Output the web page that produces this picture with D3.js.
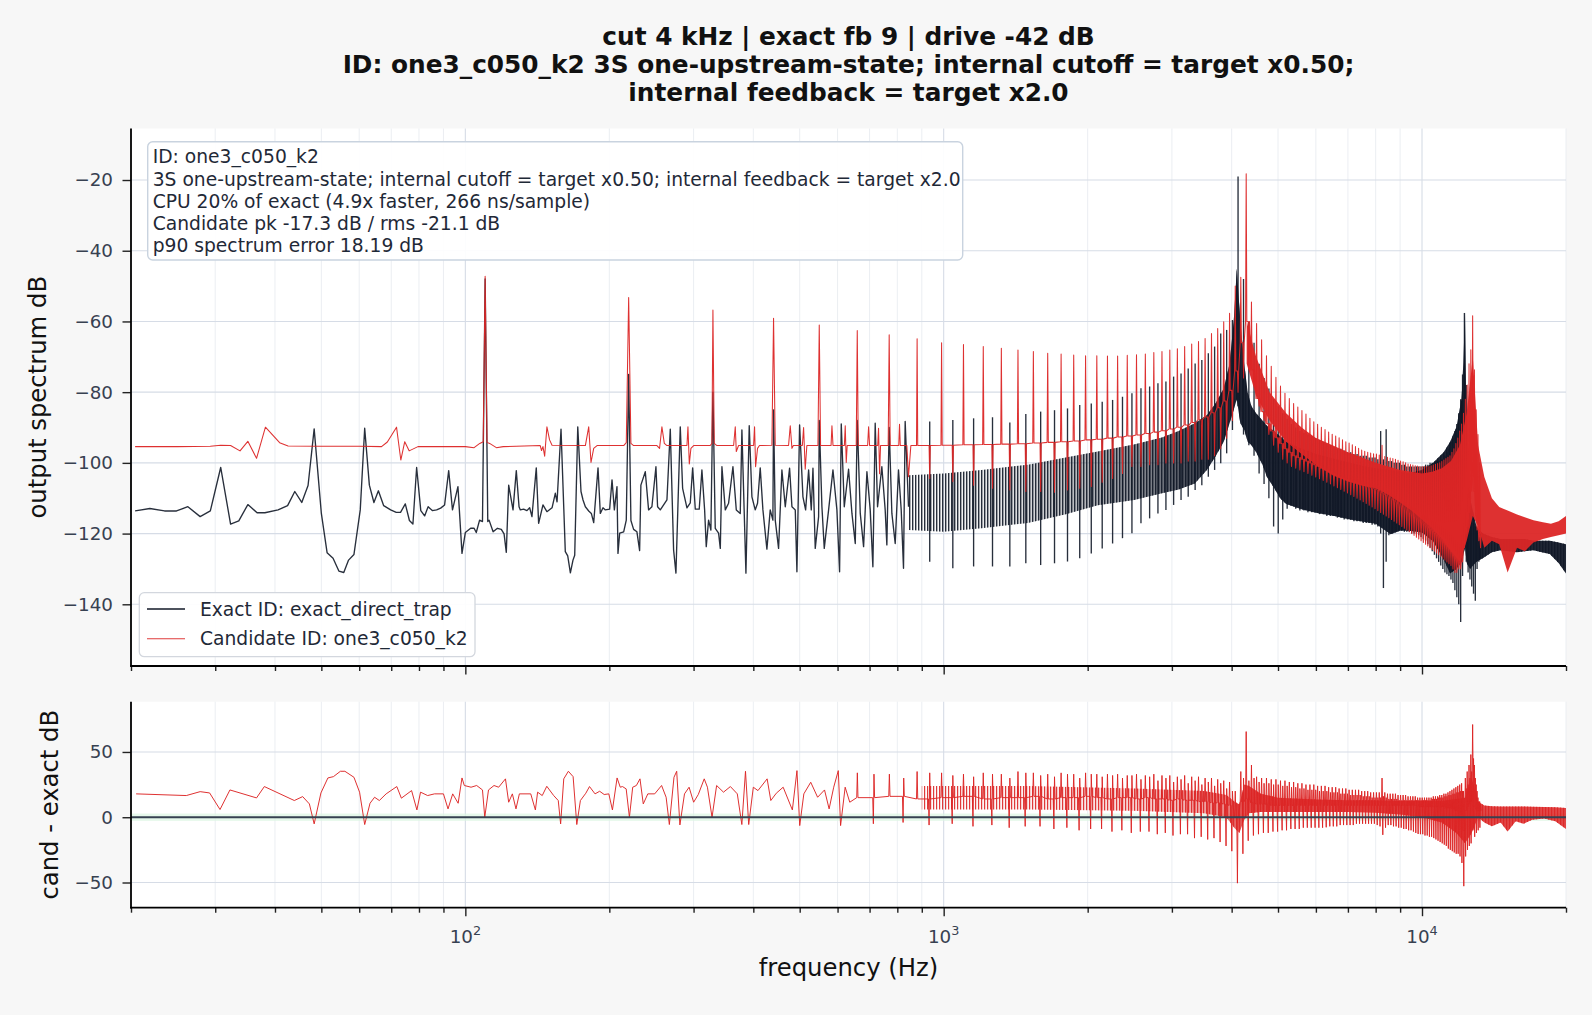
<!DOCTYPE html>
<html><head><meta charset="utf-8">
<script src="https://cdn.jsdelivr.net/npm/d3@7"></script>
<style>
html,body{margin:0;padding:0;background:#f7f7f7;}
svg{display:block;font-family:"DejaVu Sans",sans-serif;}
</style></head><body>
<svg id="chart" width="1592" height="1015"></svg>
<script>
// ---------------- DATA ----------------
const titleLines = ["cut 4 kHz | exact fb 9 | drive -42 dB",
  "ID: one3_c050_k2 3S one-upstream-state; internal cutoff = target x0.50;",
  "internal feedback = target x2.0"];
const infoLines = ["ID: one3_c050_k2",
  "3S one-upstream-state; internal cutoff = target x0.50; internal feedback = target x2.0",
  "CPU 20% of exact (4.9x faster, 266 ns/sample)",
  "Candidate pk -17.3 dB / rms -21.1 dB",
  "p90 spectrum error 18.19 dB"];
const seriesNames = ["Exact ID: exact_direct_trap", "Candidate ID: one3_c050_k2"];
const freqDomain = [20, 20000];
const specDomain = [-157.45, -5.43];
const diffDomain = [-69.3, 88.5];
const specTicks = [-140, -120, -100, -80, -60, -40, -20];
const diffTicks = [-50, 0, 50];
const okBand = [-2.8, 2.8];

const F0 = 110;            // fundamental of the harmonic comb (Hz)
const HARM_START = 8;      // first harmonic in the spectrum tables (880 Hz)
const DIFF_HARM_START = 6; // first harmonic in the difference tables (660 Hz)

// exact spectrum, low-frequency points [Hz, dB]
const exactLow = [[20.4,-113.6],[21.9,-112.9],[23.5,-113.6],[24.9,-113.6],[26.3,-112.4],[27.9,-115.2],[29.3,-113.6],[30.8,-101.3],[32.3,-117.3],[33.6,-116.4],[35.1,-111.8],[36.7,-114.1],[38.1,-114.1],[40.6,-113.3],[42.5,-112.1],[44,-108.1],[45.5,-111.2],[46.9,-106.4],[48.3,-90.4],[50,-114.3],[51.4,-125.4],[52.9,-127],[54.4,-130.6],[55.7,-131],[57,-127.5],[58.5,-125.9],[60.3,-113.3],[61.6,-90.2],[63,-106.3],[64.4,-111.2],[65.8,-107.9],[67.5,-112.1],[69.8,-113.3],[71.7,-114],[73.2,-114],[74.9,-111.6],[76.4,-116.3],[77.7,-117.3],[79.1,-101.3],[80.7,-113.5],[82.2,-115],[83.6,-112.4],[85.3,-113.5],[87.1,-113.3],[88.8,-112.8],[90.5,-111.9],[92.3,-102.2],[94,-113.3],[96.5,-106.7],[98.4,-125.6],[100,-119.7],[102.6,-118.5],[104.3,-118.5],[105.4,-119.7],[107.1,-116.2],[108.6,-116.6],[110,-48],[111.4,-116.6],[112.1,-116.2],[114.3,-119.5],[116.7,-118.5],[118.9,-118.8],[120.5,-120.1],[121.8,-125.3],[123.2,-106.3],[125.8,-113.3],[127.8,-102.2],[129.5,-112.4],[130.3,-113.3],[132.4,-113.1],[134.5,-113.5],[136.3,-112.7],[137.8,-115.2],[140.7,-101.4],[142.3,-117.1],[145.3,-111.9],[148.1,-113.8],[151.8,-112.7],[154.2,-108.6],[155.5,-111],[158.5,-90.5],[161.8,-125.1],[163.7,-126.3],[165.8,-131.1],[167.9,-127.5],[169.3,-126.1],[171.8,-89.8],[174.5,-108.1],[176.2,-110.5],[178.2,-112.4],[181.1,-113.6],[183.4,-114.3],[185.5,-116.9],[189.4,-101.4],[191.5,-114.3],[194,-112.7],[196.2,-113.3],[200.3,-113.1],[202.6,-104.8],[204.9,-113.3],[207.5,-106.7],[208.5,-125.6],[210.2,-119.9],[214.3,-119.5],[217,-116.2],[219.5,-75],[221.9,-116.3],[224.8,-118.8],[228.4,-119.5],[231.4,-124.8],[232.8,-106.3],[237.8,-102.5],[241.6,-113.3],[245.5,-112.4],[250.3,-101.1],[252.3,-112.4],[255.6,-113.3],[263.9,-110.5],[268.2,-90.5],[272.5,-124.6],[275.6,-131.2],[281.4,-89.8],[284.6,-107.2],[290.6,-112.7],[295.3,-111.3],[298.7,-101.4],[302.5,-113.1],[308.3,-113.1],[312.3,-102],[316.4,-113.3],[318.9,-123.7],[322.5,-116.2],[326.1,-119],[329.3,-80],[333,-118.5],[338.4,-119.9],[341.2,-124.2],[343.9,-101.1],[349.5,-113.3],[355.1,-111.4],[362.6,-101.1],[368.5,-113.3],[375.6,-114.3],[378.6,-90.7],[386,-131.2],[392.2,-89.5],[397.3,-109.6],[403.7,-113.3],[408.2,-111.4],[413.5,-101.4],[418.9,-113.3],[427,-124.4],[433.9,-113.3],[439.5,-116.2],[440.9,-85],[444.5,-116.2],[451.7,-124.2],[459,-102],[466.5,-112.4],[476.3,-101.5],[481.7,-112.4],[489.5,-113.3],[493.4,-130.8],[499.8,-89.3],[507.9,-109.6],[514.5,-113.3],[522,-102],[528.7,-113.3],[533,-101.5],[538.9,-124.2],[547.7,-115.2],[549.4,-88],[556.5,-112.4],[562.8,-124.2],[574.7,-113.3],[586.9,-102],[598.1,-113.3],[605.9,-130.8],[610.8,-89],[619.7,-112.4],[632.7,-101.8],[643,-114.3],[653.4,-122.8],[659.7,-88],[669.3,-114.3],[680.1,-123.7],[691.1,-102.5],[702.2,-113.3],[711.2,-129.4],[719.2,-88.8],[727.4,-112.4],[742.6,-101.1],[754.6,-113.3],[760.7,-123.2],[769.3,-90],[779.3,-114.3],[791.9,-122.8],[804.6,-102],[815.1,-113.3],[824.2,-129.8],[830.8,-88.3],[844.3,-112.4]];

// exact spectrum, spikes at half-harmonics (n+0.5)*F0, n = 8..120
const exactHi = [-88.3,-87.9,-87.4,-87.1,-88.6,-86.2,-85.5,-85.1,-84.6,-83.6,-83.2,-82.7,-82.2,-81.3,-80.3,-78.9,-78.4,-77.5,-77.0,-75.6,-74.7,-73.3,-71.9,-70.9,-69.0,-67.1,-63.4,-62.4,-59.6,
  -19.0,
  -48,-60,-66,-72,-76,-79,-82,-84,-86,-87.5,-89,-90,-91,
  -91.5,-92,-92.5,-93,-93.5,-94,-94.5,-95,-95.5,-96,-96,-96.5,-97,-97,-97.5,-97.5,-98,-98,-98,-98.5,-98.5,-98.5,-99,-91,
  -99,-90.5,
  -99.5,-99.5,-100,-100,-100,-100.5,-100.5,-101,-101,-101,-101,-101,-101,-101,-101,-100.5,-100.5,-100,-100,-100,-99.5,-99.5,-99,
  -99,-98,-97,-96,-94,-93,-91,-89,-86,-82,-75,-57.6,-78,-96,-108,-114,-117,-118,-119,-119,-120];
const exactLo = [-128,-129.8,-129.3,-129.3,-129.3,-128.4,-128.9,-128.4,-127.9,-127.0,-125.6,-124.2,-122.8,-121.3,-119.9,-117.1,-115.7,-114.3,-113.3,-111.9,-110.5,-109.6,-107.7,-106.3,-103.9,-102.0,-100.1,-97.3,-90.7,
  -84,
  -92,-95,-98,-103,-106,-110,-118,-120,-116,-113,-112,-113,-113.5,
  -113.5,-114,-114,-114,-114.5,-114.5,-115,-115,-115,-115.5,-115.5,-116,-116,-116,-116.5,-116.5,-116.5,-117,-117,-117,-117.5,-117.5,-118,-120,
  -135.4,-128,
  -120.5,-120,-119.5,-119.5,-119,-119,-119.5,-119.5,-119.5,-120,-120,-120,-120.5,-121,-121.5,-122,-123,-124,-125,-126,-127,-128,-129,
  -130,-131,-131.5,-132,-133,-134,-136,-138,-140,-145,-132,-122,-128,-131,-133,-135,-137,-139,-130,-128,-127];
// exact spectrum dense band (Hz, upper dB, lower dB)
const exactBandF = [845,1000,1200,1500,1800,2100,2500,2860,3100,3350,3550,3700,3850,3960,4040,4100,4170,4250,4320,4400,4500,4640,4740,4900,5050,5200,5600,6000,6600,7070,7600,8000,8600,9000,9400,10000,10550,11100,11450,11800,12100,12200,12300,12400,12600,13000,13400,14000,14600,15200,15800,16400,17100,17800,18500,19300,20000];
const exactBandTop = [-103.5,-103,-102,-100.5,-98.5,-96.8,-94.8,-92.8,-91,-88.8,-86.5,-83.2,-79,-72,-60,-45,-60,-72,-80,-84,-86,-88,-89.5,-91,-92.5,-94,-96,-97.5,-99,-100,-101,-101.5,-102,-102.5,-103,-102,-100,-97,-94,-89.9,-81.8,-71.7,-57.6,-92,-110,-118,-120,-121,-121.5,-121.5,-121.5,-121.5,-122,-122,-122,-122.5,-123];
const exactBandBot = [-119,-119.5,-118.5,-117,-114.5,-112,-110.5,-108.6,-107.5,-105.8,-102,-98.2,-94,-88.8,-85,-82,-88.8,-90.7,-94,-95,-97,-100.5,-104,-107,-110,-111.6,-113.1,-114.1,-115.1,-116,-116.7,-117.2,-120.2,-119.2,-119.2,-119.7,-122.2,-127.3,-131.3,-130,-128,-126,-124,-128.3,-130,-128,-127,-125.3,-124.7,-125,-125.3,-125,-124.7,-125.3,-125.8,-128.3,-131.3];
// how solid the exact band looks on top of its hatching (Hz, fill opacity)
const exactDensityF = [845, 1300, 2000, 2800, 3500, 3900];
const exactDensity = [0.0, 0.1, 0.32, 0.58, 0.84, 0.94];

// candidate spectrum, low-frequency points [Hz, dB]
const candLow = [[20.4,-95.4],[25,-95.4],[29.3,-95.3],[30.8,-95.0],[32.3,-95.1],[33.8,-96.6],[35.1,-93.9],[36.6,-98.7],[38.2,-89.9],[40.9,-94.3],[42.6,-95.2],[50,-95.3],[60,-95.3],[66.8,-95.4],[68.7,-94.1],[71.8,-89.9],[73.3,-99.2],[74.7,-94.0],[76.3,-96.6],[79.6,-95.4],[100,-95.4],[104.3,-95.7],[107.2,-94.5],[109,-94],[110,-47.2],[111,-94.2],[112.4,-94.5],[116.1,-95.7],[120,-95.4],[143.4,-95.1],[144.3,-96.5],[145.3,-95.4],[146.5,-98.1],[148.1,-89.8],[150,-93.5],[151.8,-95.0],[178.2,-95.1],[181.1,-89.8],[183.1,-99.9],[185.5,-95.9],[188.5,-95.1],[214.3,-95.1],[217,-94.3],[219.5,-53.2],[221.9,-94.5],[224.8,-95.1],[251.5,-95.1],[254.7,-95.9],[257.6,-89.8],[260.6,-94.5],[263.9,-95.1],[290.6,-95.1],[292,-89.8],[293.9,-100.3],[296.2,-95.9],[300.1,-95.1],[325.1,-95.1],[327.7,-94.5],[329.3,-56.8],[331.4,-94.5],[335.7,-95.1],[363.8,-95.1],[366.7,-89.8],[368.5,-96.8],[372.6,-95.1],[400.5,-95.1],[402.4,-89.8],[404.4,-101.1],[408.2,-95.9],[412,-95.1],[437.4,-95],[440.9,-59.1],[444.5,-95],[473.9,-95.1],[477.8,-89.5],[481.7,-95.9],[485,-95.1],[506.5,-95.1],[509.5,-90],[513.5,-101.8],[517.6,-95.1],[545.9,-95.1],[549.4,-61],[552.9,-95.1],[581.5,-95.1],[584,-89.5],[587,-95.1],[620,-95.1],[622.6,-89.5],[625.6,-99.9],[628.5,-95.1],[656.4,-95.1],[659.7,-62.6],[662.8,-95.1],[693.5,-95.1],[696.7,-89.8],[700,-95.1],[728,-95.1],[730.9,-90.2],[734.5,-103.1],[738,-95.1],[765.6,-95.1],[769.3,-63.8],[773,-95.1],[805.5,-95.1],[808.5,-89.1],[811.5,-95.1],[837.5,-95.1],[844.3,-103.9],[853.9,-95.1]];

// candidate spectrum per harmonic n = 8..120: peak at n*F0, floor, dip at (n+0.5)*F0
const candPeak = [-64.9,-66.0,-66.5,-67.1,-67.6,-68.1,-68.5,-69.0,-69.2,-69.5,-69.7,-69.7,-69.8,-69.8,-69.6,-69.4,-69.2,-68.8,-68.5,-68.1,-67.7,-67.1,-66.4,-65.7,-64.8,-63.4,-62.0,-60.1,-57.7,
  -50,-47.5,-18.2,
  -54.5,-60.6,-65.2,-69.7,-72.7,-75.8,-78.3,-80.3,-81.8,-83.2,-84.2,
  -85.2,-86.2,-87.4,-88.4,-89.1,-89.9,-90.6,-91.3,-91.9,-92.4,-92.9,-93.5,-94.0,-94.4,-94.9,-95.4,-95.9,-96.4,-96.7,-97.0,-97.2,-97.4,-97.5,-97.8,
  -95,-98.2,
  -98.4,-98.6,-98.8,-99.0,-99.3,-99.5,-99.7,-100,-100.3,-100.5,-100.6,-100.8,-100.9,-101,-101,-101,-101,-101,-100.8,-100.6,-100.4,-100.2,-100,
  -99.6,-99.2,-98.8,-98.4,-98,-97,-96,-94.5,-93,-91,-89,-86,-82,-78,-72,-68,-58.4,-73.7,-85,-92,-100];
const candFloor = [-95.1,-95.0,-94.9,-94.8,-94.7,-94.6,-94.4,-94.2,-94.0,-93.8,-93.5,-93.3,-93.0,-92.7,-92.4,-92.1,-91.7,-91.3,-90.9,-90.4,-89.9,-89.3,-88.6,-87.8,-87.0,-85.8,-84.4,-82.5,-79.5,
  -74,-66,-60,
  -73.7,-81.8,-85.5,-88.9,-91,-92.9,-94.5,-96,-97,-98,-98.5,
  -99,-99.5,-100,-100.5,-101,-101.5,-102,-102.5,-103,-103.5,-104,-104.3,-104.6,-105,-105.3,-105.6,-105.9,-106.2,-106.5,-106.8,-107,-107.3,-107.6,-108,
  -108.5,-109,
  -109.5,-110,-110.5,-111,-111.6,-112,-112.5,-113,-113.5,-114,-114.5,-115,-115.5,-116,-116.5,-117,-117.5,-118,-118.5,-119,-119.5,-120,-120.5,
  -121,-121.5,-122,-122.5,-123,-124,-125,-126,-127,-128,-126,-122,-118,-114,-110,-105,-100,-108,-115,-118,-120];
const candDip = [-104.4,-105.3,-106.3,-107.2,-107.7,-108.1,-108.1,-108.3,-107.7,-107.2,-106.7,-105.5,-104.4,-103.0,
  -101,-101,-100.5,-100.5,-100,-100,-100,-99.5,-99.5,-99,-99,-98,-96,-93,-88,
  -80,-76,-70,
  -78,-84,-88,-92,-95,-97,-99,-100,-101,-101.5,-102,
  -102.5,-103,-103.5,-104,-104.5,-105,-105.5,-106,-106.5,-107,-107.5,-108,-108.5,-109,-109.5,-110,-110.5,-111,-111.5,-112,-112.5,-113,-113.5,-114,
  -114.5,-115,
  -115.5,-116,-116.5,-117,-117.5,-118,-118.5,-119,-119.5,-120,-120.5,-121,-121.5,-122,-122.5,-123,-123.5,-124,-124.5,-125,-125.5,-126,-126.5,
  -127,-127.5,-128,-128.5,-129,-130,-131,-131,-130,-130,-128,-124,-120,-118,-114,-108,-104,-112,-119,-122,-124];
// candidate dense band (Hz, upper dB, lower dB)
const candBandF = [4300,4500,4800,5200,5600,6000,6500,7000,7500,8000,8500,9000,9500,10000,10500,11000,11500,12000,12400,12770,13100,13500,14000,14500,15100,15800,16400,17100,17900,18600,19300,20000];
const candBandTop = [-60,-70,-80,-86,-90,-93,-95,-97,-98.5,-100,-101,-102,-102.5,-103,-102.5,-101.5,-99.5,-95,-86,-70,-95,-104,-110,-112.5,-113.5,-114.6,-115.4,-116.2,-116.8,-117.2,-116.5,-115];
const candBandBot = [-72,-81,-88,-94,-97.5,-100.5,-103.5,-105.3,-106.5,-107.2,-109,-111.2,-113.5,-116,-118.5,-121.5,-125,-128,-122,-115,-118,-124,-122,-123,-131,-124,-125,-122.5,-121.5,-121,-120.5,-120];

// difference (cand - exact), low-frequency points [Hz, dB]
const diffLow = [[20.5,17.9],[26.1,16.6],[27.9,19.6],[29.2,18.6],[30.7,5.9],[32.2,20.9],[36.6,14.8],[38,23.5],[43.9,12.8],[45.7,15.8],[47.2,10.2],[48.3,-5.1],[49.9,18.6],[51.6,30.1],[53,31.1],[54.8,35.2],[56,35.2],[58.5,30.6],[60.1,19.2],[61.6,-5.6],[63.2,10.7],[64.6,15.3],[66.1,12.8],[68.3,17.9],[71.9,23.5],[73.5,14.6],[77.2,20.4],[79.2,5.6],[80.6,19.2],[83.4,16.6],[86.2,17.9],[90,17.9],[92,6.4],[94.1,17.9],[96.6,10.7],[98.4,30.1],[99.5,24.3],[102.8,23],[105.6,24.3],[108.6,20.9],[109.8,0],[111.8,20.9],[114.8,24.3],[117.4,23],[121.3,29.4],[123.2,11.5],[125.4,17.9],[127.6,6.4],[129.7,17.9],[137,17.9],[140.1,5.6],[141.6,19.2],[144.8,16.6],[148,23.7],[153,16.6],[156.4,12.8],[158.2,-5.1],[160.6,29.4],[164.2,35.2],[168,31.1],[171,-5.6],[174,12.8],[178.6,18.4],[181.8,23.5],[186.7,17.9],[190.9,19.9],[195.1,17.4],[199.5,17.9],[203,5.6],[207.6,30.1],[210.8,23],[213.1,23.5],[216.9,21.7],[220.3,0],[223.8,23],[227.8,24.3],[231.8,29.4],[235.5,10.2],[240.7,17.9],[248.8,17.9],[257.2,24.3],[262.9,15.3],[267,-5.6],[273,30.6],[276.6,35.2],[280.9,-5.9],[287.2,17.9],[293.6,23],[300.1,11.5],[306.9,17.4],[315.8,29.4],[320.7,23],[327.9,0],[335.2,24.3],[346.5,19.2],[358.2,23.5],[370.3,17.9],[378.5,-5.6],[385.2,35.2],[391.2,-5.6],[400,23],[409,20.4],[427.5,29.4],[435.1,12.8],[446.8,18.4],[461.8,23],[482.7,5.6],[493.5,35.7],[500.1,-6.4],[510.1,17.9],[527.3,26.8],[545.1,15.3],[563.5,20.9],[576.1,6.4],[589,23],[602.1,35.7],[608.8,-6.4],[622.4,23],[636.3,11.5]];
// difference per harmonic n = 6..120
const diffBase = [15,16,14,15,16,14,15,15,16,14,15,15,16,15,14,15,15,14,15,14,14,13,14,13,13,12,12,11,11,10,9,
  0,12,14,
  11,10,10,10,9,9,9,9,9,9, 9,9,9,9,9,9,9,9,9,9, 9,9,9,9,9,9,9,9,9,9, 9,9,9,9,9,9,9,9,9,9, 9,9,9,9,9,9,9,9,9,9, 8,8,8,8,8,8,8,8,8,8, 8,8,7,7,7,6,
  6,5,5,4,2,-10,5,8,10,12,20,8,6,5,5];
const diffHarm = [34,33,35,34,33,34,33,35,34,33,34,33,34,33,33,
  33,32,33,32,33,32,32,31,32,31,
  31,30,30,29,28,27,
  20,35,65.6,40,
  31,30,30,29,29,28,28,27,27,26,
  26,25,25,25,24,24,24,23,23,23,
  22,22,22,21,21,21,21,20,20,20,
  19,19,19,19,30,19,18,18,18,18,
  17,17,17,17,16,16,16,16,15,15,
  15,15,15,15,15,16,16,16,17,17,
  18,18,19,20,21,22,23,24,25,26,
  20,30,35,40,48,71,40,25,15,12];
const diffHalfLo = [-5,-4,-6,-5,-7,-6,-8,-7,-7,-9,-8,-10,-9,-9,-11,
  -10,-12,-11,-11,-13,-12,-14,-13,-13,-16,
  -15,-17,-16,-19,-22,-26,
  -50.5,-28,-18,-14,
  -13,-12,-12,-11,-11,-10,-10,-9,-9,-9,
  -8,-8,-8,-8,-8,-8,-7.7,-7,-7,-7,
  -6,-6,-6,-6,-6,-5,-5,-5,-5,-5,
  -5,-5,-6,-7,-13.5,-8,-6,-6,-7,-7,
  -8,-8,-9,-9,-10,-10,-11,-12,-12.8,-13,
  -13,-14,-14,-15,-15,-16,-17,-18,-19,-20,
  -21,-22,-24,-25,-26,-27,-28,-28,-30,-35,
  -52.8,-30,-25,-22,-20,-10,-15,-12,-10,-8];
const diffHalfHi = [33,30,34,32,31,33,30,34,32,31,33,30,33,31,32,
  30,32,29,31,28,30,27,29,26,28,
  25,27,24,26,22,20,
  10,30,28,30,
  27,26,26,25,25,24,24,23,23,22,
  22,21,21,21,20,20,20,19,19,19,
  18,18,18,17,17,17,17,16,16,16,
  15,15,15,15,16,15,14,14,14,14,
  13,13,13,13,13,13,13,13,13,13,
  13,13,13,13,14,14,14,15,15,15,
  16,16,17,17,18,18,19,19,20,20,
  10,22,25,30,35,45,30,20,12,10];
const diffBandF = [900,1500,2500,3500,3900,4050,4150,4250,4350,4600,5000,6000,7000,8000,9000,10000,11000,11800,12300,12700,13100,13500,14000,14600,15100,15700,16300,17000,18000,19000,20000];
const diffBandTop = [24,24,22,20,17,12,10,25,24,18,15,13.5,13,13,12.5,12.5,12.5,14,15,30,12,9,8.5,8.2,8.2,8.2,8.2,8,7.8,7.6,7];
const diffBandBot = [6,6,5,3,0,-8,-12,-2,3,4,4,4,4,3.5,2,0,-4,-12,-20,-12,0,-4,-7,-4,-11,-3,-5,-2,-1,-3,-9];
// how solid the difference band looks on top of its hatching (Hz, fill opacity)
const diffDensityF = [900, 2000, 3000, 3800, 4300];
const diffDensity = [0.0, 0.12, 0.3, 0.5, 0.85];

// ---------------- LAYOUT / STYLE ----------------
const W = 1592, H = 1015;
const X0 = 131, X1 = 1566;
const TOP = {y0: 128.5, y1: 666};
const BOT = {y0: 701.7, y1: 907.7};
const C_EXACT = "#111827", C_CAND = "#dc2626";
const C_GRID = "#d6dce6", C_GRID_MINOR = "#e9ecf1", C_TICKTXT = "#374151";
const FS_TICK = 18.3, FS_TEXT = 18.7, FS_LABEL = 24.3, FS_TITLE = 24.8;

const svg = d3.select("#chart");
svg.append("rect").attr("width", W).attr("height", H).attr("fill", "#f7f7f7");

const x = d3.scaleLog().domain(freqDomain).range([X0, X1]);
const yT = d3.scaleLinear().domain(specDomain).range([TOP.y1, TOP.y0]);
const yB = d3.scaleLinear().domain(diffDomain).range([BOT.y1, BOT.y0]);

const defs = svg.append("defs");
[["clipTop", TOP], ["clipBot", BOT]].forEach(([id, p]) => {
  defs.append("clipPath").attr("id", id).append("rect")
    .attr("x", X0).attr("y", p.y0).attr("width", X1 - X0).attr("height", p.y1 - p.y0);
});
function densityGradient(id, color, fs, ops) {
  const g = defs.append("linearGradient").attr("id", id).attr("gradientUnits", "userSpaceOnUse")
    .attr("x1", X0).attr("x2", X1).attr("y1", 0).attr("y2", 0);
  fs.forEach((f, i) => g.append("stop").attr("offset", (x(f) - X0) / (X1 - X0))
    .attr("stop-color", color).attr("stop-opacity", ops[i]));
}
densityGradient("gradExact", C_EXACT, exactDensityF, exactDensity);
densityGradient("gradDiff", C_CAND, diffDensityF, diffDensity);
function hatch(id, color, period, lw, op) {
  const p = defs.append("pattern").attr("id", id).attr("patternUnits", "userSpaceOnUse")
    .attr("width", period).attr("height", 8);
  p.append("rect").attr("x", 0).attr("y", 0).attr("width", lw).attr("height", 8)
    .attr("fill", color).attr("fill-opacity", op);
}
hatch("hatchExact", C_EXACT, 3, 1.4, 0.9);
hatch("hatchDiff", C_CAND, 3, 1.2, 0.9);

const allXTicks = x.ticks();
const isMajor = f => Math.abs(Math.log10(f) - Math.round(Math.log10(f))) < 1e-9;
const majorX = allXTicks.filter(isMajor);
const minorX = allXTicks.filter(f => !isMajor(f));

function panel(p, yScale, yTicks) {
  const g = svg.append("g");
  g.append("rect").attr("x", X0).attr("y", p.y0).attr("width", X1 - X0).attr("height", p.y1 - p.y0).attr("fill", "#ffffff");
  minorX.forEach(f => g.append("line").attr("x1", x(f)).attr("x2", x(f)).attr("y1", p.y0).attr("y2", p.y1)
    .attr("stroke", C_GRID_MINOR).attr("stroke-width", 0.9));
  majorX.forEach(f => g.append("line").attr("x1", x(f)).attr("x2", x(f)).attr("y1", p.y0).attr("y2", p.y1)
    .attr("stroke", C_GRID).attr("stroke-width", 1.1));
  yTicks.forEach(v => g.append("line").attr("x1", X0).attr("x2", X1).attr("y1", yScale(v)).attr("y2", yScale(v))
    .attr("stroke", C_GRID).attr("stroke-width", 1.1));
  return g;
}
panel(TOP, yT, specTicks);
panel(BOT, yB, diffTicks);

// ---------- top panel data ----------
const gT = svg.append("g").attr("clip-path", "url(#clipTop)");
const lineT = d3.line().x(d => x(d[0])).y(d => yT(d[1]));
const areaT = d3.area().x(d => x(d[0])).y0(d => yT(d[2])).y1(d => yT(d[1]));
const DL = 0.003;

// exact
const exactBand = exactBandF.map((f, i) => [f, exactBandTop[i], exactBandBot[i]]);
gT.append("path").datum(exactBand).attr("d", areaT).attr("fill", "url(#hatchExact)");
gT.append("path").datum(exactBand).attr("d", areaT).attr("fill", "url(#gradExact)");
gT.append("path").datum(exactLow).attr("d", lineT).attr("fill", "none")
  .attr("stroke", C_EXACT).attr("stroke-opacity", 0.9).attr("stroke-width", 1.35).attr("stroke-linejoin", "round");
const exactSpikes = exactHi.map((hi, i) => [(i + HARM_START + 0.5) * F0, hi, exactLo[i]]);
gT.selectAll("line.exs").data(exactSpikes).join("line").attr("class", "exs")
  .attr("x1", d => x(d[0])).attr("x2", d => x(d[0])).attr("y1", d => yT(d[1])).attr("y2", d => yT(d[2]))
  .attr("stroke", C_EXACT).attr("stroke-opacity", 0.9).attr("stroke-width", 1.35);

// candidate
const candBand = candBandF.map((f, i) => [f, candBandTop[i], candBandBot[i]]);
gT.append("path").datum(candBand).attr("d", areaT).attr("fill", C_CAND).attr("fill-opacity", 0.95);
const candPts = candLow.slice();
candPeak.forEach((pk, i) => {
  const n = i + HARM_START, f = n * F0, fh = (n + 0.5) * F0, fl = candFloor[i];
  candPts.push([f * (1 - DL), fl], [f, pk], [f * (1 + DL), fl], [fh * (1 - DL), fl], [fh, candDip[i]], [fh * (1 + DL), fl]);
});
gT.append("path").datum(candPts).attr("d", lineT).attr("fill", "none")
  .attr("stroke", C_CAND).attr("stroke-opacity", 0.95).attr("stroke-width", 1.05).attr("stroke-linejoin", "round");

// ---------- bottom panel ----------
const gB = svg.append("g").attr("clip-path", "url(#clipBot)");
gB.append("rect").attr("x", X0).attr("width", X1 - X0).attr("y", yB(okBand[1])).attr("height", yB(okBand[0]) - yB(okBand[1]))
  .attr("fill", "#dcf5e3").attr("fill-opacity", 0.7);
const lineB = d3.line().x(d => x(d[0])).y(d => yB(d[1]));
const areaB = d3.area().x(d => x(d[0])).y0(d => yB(d[2])).y1(d => yB(d[1]));
const diffBand = diffBandF.map((f, i) => [f, diffBandTop[i], diffBandBot[i]]);
gB.append("path").datum(diffBand).attr("d", areaB).attr("fill", "url(#hatchDiff)");
gB.append("path").datum(diffBand).attr("d", areaB).attr("fill", "url(#gradDiff)");
const diffPts = diffLow.slice();
diffHarm.forEach((h, i) => {
  const n = i + DIFF_HARM_START, f = n * F0, fh = (n + 0.5) * F0, b = diffBase[i];
  diffPts.push([f * (1 - DL), b], [f, h], [f * (1 + DL), b], [fh * (1 - 2 * DL), b], [fh * (1 - DL), diffHalfLo[i]], [fh, diffHalfHi[i]], [fh * (1 + DL), b]);
});
gB.append("path").datum(diffPts).attr("d", lineB).attr("fill", "none")
  .attr("stroke", C_CAND).attr("stroke-opacity", 0.95).attr("stroke-width", 1.0).attr("stroke-linejoin", "round");
gB.append("line").attr("x1", X0).attr("x2", X1).attr("y1", yB(0)).attr("y2", yB(0))
  .attr("stroke", "#374151").attr("stroke-width", 2.2);

// ---------- axes ----------
function styleAxis(g) {
  g.select(".domain").remove();
  g.selectAll(".tick line").attr("stroke", "#222").attr("stroke-width", 1.4);
  g.selectAll(".tick text").attr("fill", C_TICKTXT).attr("font-size", FS_TICK).attr("font-family", "DejaVu Sans");
}
svg.append("g").attr("transform", `translate(${X0},0)`)
  .call(d3.axisLeft(yT).tickValues(specTicks).tickSize(8.5).tickPadding(9.5)).call(styleAxis);
svg.append("g").attr("transform", `translate(${X0},0)`)
  .call(d3.axisLeft(yB).tickValues(diffTicks).tickSize(8.5).tickPadding(9.5)).call(styleAxis);
[TOP.y1, BOT.y1].forEach(yy => {
  svg.append("g").attr("transform", `translate(0,${yy})`)
    .call(d3.axisBottom(x).tickValues(majorX).tickSize(8.5).tickFormat("")).call(styleAxis);
  svg.append("g").attr("transform", `translate(0,${yy})`)
    .call(d3.axisBottom(x).tickValues(minorX).tickSize(5).tickFormat("")).call(styleAxis);
});
// spines
[TOP, BOT].forEach(p => {
  svg.append("line").attr("x1", X0).attr("x2", X0).attr("y1", p.y0).attr("y2", p.y1 + 0.8).attr("stroke", "#000").attr("stroke-width", 1.8);
  svg.append("line").attr("x1", X0 - 0.8).attr("x2", X1).attr("y1", p.y1).attr("y2", p.y1).attr("stroke", "#000").attr("stroke-width", 1.8);
});
// x tick labels with superscripts
majorX.forEach(f => {
  const t = svg.append("text").attr("x", x(f)).attr("y", 943.3).attr("text-anchor", "middle")
    .attr("font-size", FS_TICK).attr("fill", C_TICKTXT);
  t.append("tspan").text("10");
  t.append("tspan").attr("font-size", 12.8).attr("dy", -8).text(String(Math.round(Math.log10(f))));
});

// axis labels
svg.append("text").attr("x", (X0 + X1) / 2).attr("y", 975.5).attr("text-anchor", "middle")
  .attr("font-size", FS_LABEL).attr("fill", "#111").text("frequency (Hz)");
svg.append("text").attr("transform", `translate(46,${(TOP.y0 + TOP.y1) / 2}) rotate(-90)`).attr("text-anchor", "middle")
  .attr("font-size", FS_LABEL).attr("fill", "#111").text("output spectrum dB");
svg.append("text").attr("transform", `translate(58,${(BOT.y0 + BOT.y1) / 2}) rotate(-90)`).attr("text-anchor", "middle")
  .attr("font-size", FS_LABEL).attr("fill", "#111").text("cand - exact dB");

// title
titleLines.forEach((s, i) => svg.append("text").attr("x", (X0 + X1) / 2).attr("y", 44.5 + i * 28.4)
  .attr("text-anchor", "middle").attr("font-size", FS_TITLE).attr("font-weight", "bold").attr("fill", "#111").text(s));

// info box
svg.append("rect").attr("x", 147.7).attr("y", 141.7).attr("width", 815).attr("height", 118.3).attr("rx", 5)
  .attr("fill", "#ffffff").attr("fill-opacity", 0.92).attr("stroke", "#c9d3df").attr("stroke-width", 1.4);
infoLines.forEach((s, i) => svg.append("text").attr("x", 152.7).attr("y", 163.3 + i * 22.2)
  .attr("font-size", FS_TEXT).attr("fill", "#1f2937").text(s));

// legend
svg.append("rect").attr("x", 139.3).attr("y", 592.7).attr("width", 335.7).attr("height", 64).attr("rx", 5)
  .attr("fill", "#ffffff").attr("fill-opacity", 0.92).attr("stroke", "#d3d7de").attr("stroke-width", 1.3);
const legY = [609, 638.7];
svg.append("line").attr("x1", 147).attr("x2", 185).attr("y1", legY[0]).attr("y2", legY[0])
  .attr("stroke", C_EXACT).attr("stroke-opacity", 0.75).attr("stroke-width", 1.8);
svg.append("line").attr("x1", 147).attr("x2", 185).attr("y1", legY[1]).attr("y2", legY[1])
  .attr("stroke", C_CAND).attr("stroke-opacity", 0.9).attr("stroke-width", 1.1);
seriesNames.forEach((s, i) => svg.append("text").attr("x", 200).attr("y", legY[i] + 6.5)
  .attr("font-size", FS_TEXT).attr("fill", "#1f2937").text(s));
</script>
</body></html>
